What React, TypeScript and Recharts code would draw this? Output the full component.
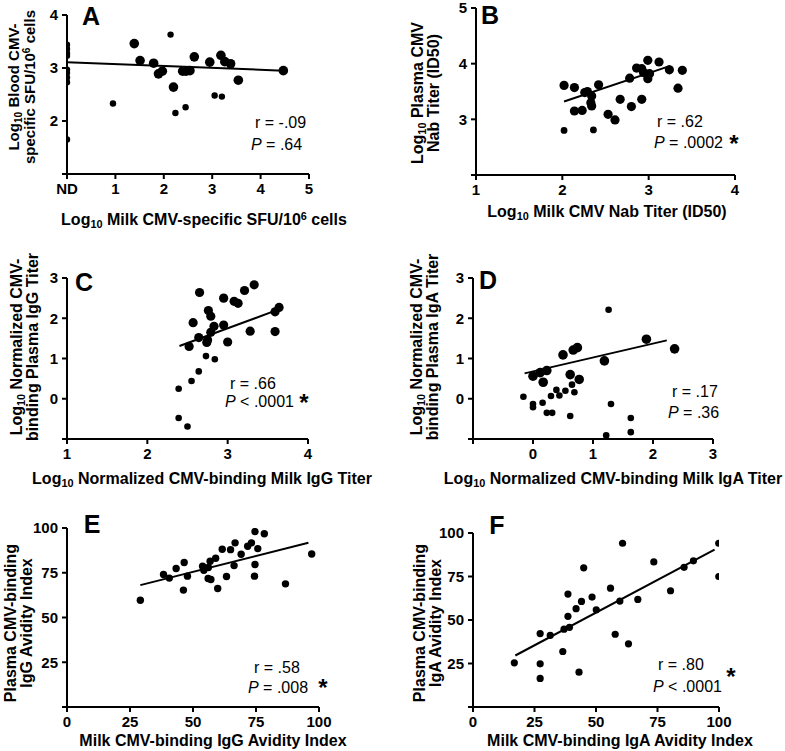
import React from 'react'
import { ScatterChart, Scatter, XAxis, YAxis } from 'recharts'

const FONT = '"Liberation Sans", Arial, sans-serif'

type Pt = { x: number; y: number }
const toPts = (rows: number[][]): Pt[] => rows.map(([x, y]) => ({ x, y }))

// A: blood vs milk SFU (ND plotted at x = 0)
const aNd = [3.44, 3.36, 3.28, 3.23, 2.97, 2.91, 2.82, 2.73, 1.65]
const aSmall = [[0.95, 2.33], [2.14, 3.63], [2.24, 2.15], [2.45, 2.26], [3.05, 2.48], [3.2, 2.46]]
const aBig = [
  [1.39, 3.46], [1.51, 3.14], [1.79, 3.09], [1.89, 2.89], [1.97, 2.94], [2.2, 2.64],
  [2.39, 2.94], [2.46, 2.94], [2.54, 2.95], [2.63, 3.21], [2.95, 3.11], [3.18, 3.24],
  [3.26, 3.12], [3.38, 3.08], [3.54, 2.77], [4.47, 2.95]
]
const aFit = [[0, 3.11], [4.47, 2.95]]

// B: Nab titers
const bSmall = [[2.02, 2.8], [2.36, 2.81]]
const bBig = [
  [2.02, 3.61], [2.14, 3.57], [2.14, 3.15], [2.23, 3.16], [2.26, 3.48], [2.29, 3.5],
  [2.34, 3.42], [2.33, 3.3], [2.34, 3.24], [2.42, 3.62], [2.53, 3.09], [2.61, 2.99],
  [2.67, 3.36], [2.78, 3.74], [2.8, 3.23], [2.86, 3.92], [2.92, 3.36], [2.92, 3.91],
  [2.94, 3.84], [2.99, 4.06], [2.99, 3.73], [3.01, 3.82], [3.12, 4.03], [3.24, 3.89],
  [3.34, 3.56], [3.39, 3.88]
]
const bFit = [[2.02, 3.32], [3.25, 3.96]]

// C: IgG titers
const cBig = [
  [2.65, 2.64], [2.57, 1.89], [2.52, 1.3], [2.64, 1.52], [2.76, 2.19], [2.79, 2.05],
  [2.79, 1.65], [2.75, 1.46], [2.74, 1.4], [2.83, 1.8], [2.95, 2.5], [2.95, 1.83],
  [3.0, 1.41], [3.08, 2.42], [3.13, 2.37], [3.21, 2.69], [3.28, 1.68], [3.33, 2.83],
  [3.59, 1.67], [3.59, 2.16], [3.64, 2.27]
]
const cSmall = [[2.39, 0.25], [2.39, -0.48], [2.5, -0.69], [2.55, 0.44], [2.64, 0.68], [2.73, 1.06], [2.84, 0.98]]
const cFit = [[2.4, 1.31], [3.57, 2.17]]

// D: IgA titers
const dBig = [
  [0.5, 1.09], [0.67, 1.21], [0.74, 1.27], [1.19, 0.94], [0.0, 0.56], [0.12, 0.65],
  [0.23, 0.7], [0.17, 0.41], [0.62, 0.6], [0.77, 0.48], [1.89, 1.48], [2.36, 1.24]
]
const dSmall = [
  [0.65, 0.35], [0.39, 0.22], [0.44, 0.08], [0.54, 0.2], [0.69, 0.16], [0.3, 0.07],
  [-0.16, 0.05], [0.0, -0.13], [0.0, -0.21], [0.16, -0.1], [0.23, -0.35], [0.32, -0.35],
  [0.62, -0.43], [1.3, -0.13], [1.63, -0.48], [1.63, -0.83], [1.22, -0.91], [1.26, 2.21]
]
const dFit = [[-0.14, 0.63], [2.23, 1.45]]

// E: IgG avidity
const ePts = [
  [29.1, 59.6], [38.3, 74.0], [40.6, 72.0], [43.3, 77.4], [46.2, 65.3], [46.5, 80.7],
  [47.8, 73.1], [53.8, 78.7], [54.3, 76.4], [56.1, 77.9], [56.0, 71.8], [57.1, 71.2],
  [56.8, 81.4], [59.0, 83.1], [59.8, 66.2], [61.6, 88.1], [63.3, 72.9], [64.9, 87.9],
  [66.3, 79.0], [66.7, 91.7], [69.1, 85.3], [71.7, 89.8], [73.2, 91.7], [74.6, 98.0],
  [74.6, 79.6], [74.4, 73.1], [75.7, 88.5], [78.3, 96.8], [86.7, 68.8], [97.1, 85.5]
]
const eFit = [[29.1, 68.1], [95.8, 91.8]]

// F: IgA avidity
const fPts = [
  [16.8, 25.4], [27.3, 42.2], [27.3, 24.8], [27.3, 16.4], [31.4, 41.2], [36.5, 31.9],
  [37.0, 44.7], [38.6, 64.9], [38.6, 52.1], [39.2, 45.8], [41.9, 56.5], [43.1, 20.0],
  [44.1, 60.7], [45.0, 80.0], [48.4, 63.2], [50.1, 55.9], [55.9, 68.3], [57.8, 41.8],
  [59.7, 60.9], [60.8, 94.1], [63.2, 36.3], [67.0, 61.8], [73.5, 83.4], [80.3, 66.8],
  [85.8, 80.3], [89.6, 84.0], [99.9, 94.1], [99.9, 75.0]
]
const fFit = [[17.2, 29.6], [98.2, 90.5]]

const dot = (r: number) => (p: any) => <circle cx={p.cx} cy={p.cy} r={r} fill="#000" />
const noDot = () => <g />

const tickStyle = { fill: '#000', fontSize: 15, fontWeight: 700, fontFamily: FONT }
const axisStroke = { stroke: '#000', strokeWidth: 2 }

interface PanelProps {
  box: number[]
  xDomain: number[]
  yDomain: number[]
  xTicks: number[]
  yTicks: number[]
  xFmt?: (v: number) => string
  series: { data: Pt[]; r: number }[]
  fit: Pt[]
}

function Panel({ box, xDomain, yDomain, xTicks, yTicks, xFmt, series, fit }: PanelProps) {
  const [x0, y0, x1, y1] = box
  const w = x1 - x0 + 85
  const h = y1 - y0 + 55
  return (
    <div style={{ position: 'absolute', left: x0 - 60, top: y0 - 15 }}>
      <ScatterChart width={w} height={h} margin={{ top: 15, right: 25, left: 30, bottom: 10 }}>
        <XAxis
          type="number"
          dataKey="x"
          domain={xDomain}
          ticks={xTicks}
          interval={0}
          allowDataOverflow
          height={30}
          tickSize={5}
          tickMargin={4}
          tick={tickStyle}
          axisLine={axisStroke}
          tickLine={axisStroke}
          tickFormatter={(v: number) => (xFmt ? xFmt(v) : v === xDomain[0] && xTicks[0] < 0 ? '' : String(v))}
        />
        <YAxis
          type="number"
          dataKey="y"
          domain={yDomain}
          ticks={yTicks}
          interval={0}
          allowDataOverflow
          width={30}
          tickSize={5}
          tickMargin={4}
          tick={tickStyle}
          axisLine={axisStroke}
          tickLine={axisStroke}
          tickFormatter={(v: number) => (v === yDomain[0] ? '' : String(v))}
        />
        {series.map((s, i) => (
          <Scatter key={i} data={s.data} shape={dot(s.r)} isAnimationActive={false} />
        ))}
        <Scatter data={fit} line={{ stroke: '#000', strokeWidth: 2 }} shape={noDot} isAnimationActive={false} />
      </ScatterChart>
    </div>
  )
}

const Sub = ({ children }: { children: React.ReactNode }) => (
  <sub style={{ fontSize: '0.68em', verticalAlign: '-0.3em', lineHeight: 0 }}>{children}</sub>
)
const Sup = ({ children }: { children: React.ReactNode }) => (
  <sup style={{ fontSize: '0.68em', verticalAlign: '0.45em', lineHeight: 0 }}>{children}</sup>
)

const Txt = ({ x, y, size = 16, bold = false, center = false, children }: any) => (
  <div
    style={{
      position: 'absolute', left: x, top: y, fontSize: size, fontWeight: bold ? 700 : 400,
      lineHeight: 1, whiteSpace: 'nowrap', transform: center ? 'translate(-50%,-50%)' : 'translateY(-50%)'
    }}
  >
    {children}
  </div>
)

const YTitle = ({ x, y, size = 16, children }: any) => (
  <div
    style={{
      position: 'absolute', left: x, top: y, fontSize: size, fontWeight: 700, lineHeight: '16px',
      textAlign: 'center', whiteSpace: 'nowrap', transform: 'translate(-50%,-50%) rotate(-90deg)'
    }}
  >
    {children}
  </div>
)

const P = () => <i>P</i>

export default function App() {
  return (
    <div style={{ position: 'absolute', left: 0, top: 0, width: 785, height: 751, background: '#fff', color: '#000', fontFamily: FONT, overflow: 'hidden' }}>
      <Panel
        box={[67, 15, 309, 174]} xDomain={[0, 5]} yDomain={[1, 4]}
        xTicks={[0, 1, 2, 3, 4, 5]} yTicks={[1, 2, 3, 4]}
        xFmt={(v) => (v === 0 ? 'ND' : String(v))}
        series={[{ data: aNd.map((y) => ({ x: 0, y })), r: 3.2 }, { data: toPts(aSmall), r: 3.2 }, { data: toPts(aBig), r: 4.8 }]}
        fit={toPts(aFit)}
      />
      <Panel
        box={[476, 8, 735, 175]} xDomain={[1, 4]} yDomain={[2, 5]}
        xTicks={[1, 2, 3, 4]} yTicks={[2, 3, 4, 5]}
        series={[{ data: toPts(bSmall), r: 3.4 }, { data: toPts(bBig), r: 4.6 }]}
        fit={toPts(bFit)}
      />
      <Panel
        box={[67, 278, 308, 439]} xDomain={[1, 4]} yDomain={[-1, 3]}
        xTicks={[1, 2, 3, 4]} yTicks={[-1, 0, 1, 2, 3]}
        series={[{ data: toPts(cSmall), r: 3.3 }, { data: toPts(cBig), r: 4.6 }]}
        fit={toPts(cFit)}
      />
      <Panel
        box={[473, 278, 713, 439]} xDomain={[-1, 3]} yDomain={[-1, 3]}
        xTicks={[-1, 0, 1, 2, 3]} yTicks={[-1, 0, 1, 2, 3]}
        series={[{ data: toPts(dSmall), r: 3.3 }, { data: toPts(dBig), r: 4.8 }]}
        fit={toPts(dFit)}
      />
      <Panel
        box={[67, 528, 319, 707]} xDomain={[0, 100]} yDomain={[0, 100]}
        xTicks={[0, 25, 50, 75, 100]} yTicks={[0, 25, 50, 75, 100]}
        xFmt={(v) => String(v)}
        series={[{ data: toPts(ePts), r: 3.7 }]}
        fit={toPts(eFit)}
      />
      <Panel
        box={[473, 533, 719, 707]} xDomain={[0, 100]} yDomain={[0, 100]}
        xTicks={[0, 25, 50, 75, 100]} yTicks={[0, 25, 50, 75, 100]}
        xFmt={(v) => String(v)}
        series={[{ data: toPts(fPts), r: 3.6 }]}
        fit={toPts(fFit)}
      />

      {/* panel letters */}
      <Txt x={91} y={16} size={25} bold center>A</Txt>
      <Txt x={490} y={15} size={25} bold center>B</Txt>
      <Txt x={84} y={282} size={25} bold center>C</Txt>
      <Txt x={488} y={280} size={25} bold center>D</Txt>
      <Txt x={92} y={524} size={25} bold center>E</Txt>
      <Txt x={497} y={525} size={25} bold center>F</Txt>

      {/* y titles */}
      <YTitle x={22} y={87} size={15}>Log<Sub>10</Sub> Blood CMV-<br />specific SFU/10<Sup>6</Sup> cells</YTitle>
      <YTitle x={426} y={93}>Log<Sub>10</Sub> Plasma CMV<br />Nab Titer (ID50)</YTitle>
      <YTitle x={25} y={347}>Log<Sub>10</Sub> Normalized CMV-<br />binding Plasma IgG Titer</YTitle>
      <YTitle x={425} y={347}>Log<Sub>10</Sub> Normalized CMV-<br />binding Plasma IgA Titer</YTitle>
      <YTitle x={19} y={623}>Plasma CMV-binding<br />IgG Avidity Index</YTitle>
      <YTitle x={428} y={623}>Plasma CMV-binding<br />IgA Avidity Index</YTitle>

      {/* x titles */}
      <Txt x={204} y={220} bold center>Log<Sub>10</Sub> Milk CMV-specific SFU/10<Sup>6</Sup> cells</Txt>
      <Txt x={607} y={212} bold center>Log<Sub>10</Sub> Milk CMV Nab Titer (ID50)</Txt>
      <Txt x={202} y={479} bold center>Log<Sub>10</Sub> Normalized CMV-binding Milk IgG Titer</Txt>
      <Txt x={613} y={479} bold center>Log<Sub>10</Sub> Normalized CMV-binding Milk IgA Titer</Txt>
      <Txt x={213} y={741} bold center>Milk CMV-binding IgG Avidity Index</Txt>
      <Txt x={620} y={741} bold center>Milk CMV-binding IgA Avidity Index</Txt>

      {/* stats */}
      <Txt x={255} y={123}>r = -.09</Txt>
      <Txt x={251} y={145}><P /> = .64</Txt>
      <Txt x={657} y={122}>r = .62</Txt>
      <Txt x={654} y={143}><P /> = .0002</Txt>
      <Txt x={734} y={144} size={24} bold center>*</Txt>
      <Txt x={230} y={384}>r = .66</Txt>
      <Txt x={225} y={402}><P /> &lt; .0001</Txt>
      <Txt x={304} y={403} size={24} bold center>*</Txt>
      <Txt x={672} y={392}>r = .17</Txt>
      <Txt x={668} y={413}><P /> = .36</Txt>
      <Txt x={254} y={668}>r = .58</Txt>
      <Txt x={248} y={688}><P /> = .008</Txt>
      <Txt x={323} y={688} size={24} bold center>*</Txt>
      <Txt x={658} y={665}>r = .80</Txt>
      <Txt x={653} y={687}><P /> &lt; .0001</Txt>
      <Txt x={731} y={677} size={24} bold center>*</Txt>
    </div>
  )
}
